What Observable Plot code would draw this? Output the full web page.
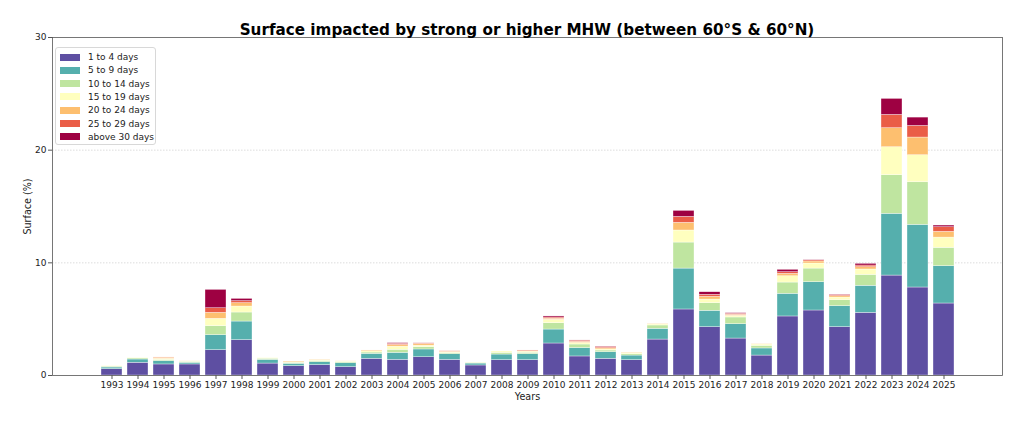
<!DOCTYPE html>
<html>
<head>
<meta charset="utf-8">
<script src="https://cdn.jsdelivr.net/npm/d3@7"></script>
<script src="https://cdn.jsdelivr.net/npm/@observablehq/plot@0.6"></script>
<style>
  body { margin: 0; background: #fff; font-family: "DejaVu Sans", sans-serif; }
  #wrap { position: relative; width: 1024px; height: 423px; }
  #title { position: absolute; left: 52px; width: 950px; top: 21px; text-align: center;
           font: bold 15.2px "DejaVu Sans", sans-serif; color: #000; line-height: 18px; }
  #legend { position: absolute; left: 55px; top: 47px; width: 99px; height: 96px;
            border: 1px solid #d8d8d8; border-radius: 3px; background: rgba(255,255,255,0.85);
            font: 9px "DejaVu Sans", sans-serif; color: #222; }
  .item { position: absolute; left: 4px; height: 13px; display: flex; align-items: center; }
  .sw { width: 20px; height: 7px; margin-right: 8px; }
</style>
</head>
<body>
<div id="wrap">
  <div id="chart"></div>
  <div id="title">Surface impacted by strong or higher MHW (between 60°S &amp; 60°N)</div>
  <div id="legend"></div>
</div>
<script>
const years = [1993,1994,1995,1996,1997,1998,1999,2000,2001,2002,2003,2004,2005,2006,2007,2008,2009,2010,2011,2012,2013,2014,2015,2016,2017,2018,2019,2020,2021,2022,2023,2024,2025];
const seriesNames = ["1 to 4 days","5 to 9 days","10 to 14 days","15 to 19 days","20 to 24 days","25 to 29 days","above 30 days"];
const seriesColors = ["#5e4fa2","#55afad","#bfe5a0","#ffffbf","#fdbf6f","#ea5d47","#9e0142"];
const yTicks = [0,10,20,30];

const d1_4   = [0.56,1.13,0.98,0.98,2.25,3.14,1.06,0.83,0.92,0.74,1.48,1.39,1.62,1.39,0.89,1.36,1.36,2.84,1.69,1.48,1.36,3.19,5.86,4.29,3.28,1.77,5.24,5.77,4.29,5.56,8.87,7.81,6.39];
const d5_9   = [0.15,0.29,0.30,0.15,1.33,1.65,0.33,0.21,0.26,0.35,0.44,0.62,0.69,0.50,0.17,0.50,0.53,1.24,0.74,0.59,0.41,0.95,3.63,1.45,1.27,0.63,2.01,2.51,1.86,2.40,5.48,5.56,3.31];
const d10_14 = [0.08,0.10,0.10,0.08,0.80,0.80,0.10,0.08,0.10,0.10,0.12,0.27,0.20,0.10,0.06,0.15,0.13,0.56,0.32,0.15,0.12,0.30,2.31,0.68,0.60,0.23,1.00,1.21,0.53,0.97,3.43,3.78,1.63];
const d15_19 = [0.04,0.05,0.10,0.04,0.65,0.53,0.05,0.06,0.08,0.06,0.12,0.28,0.14,0.08,0.03,0.12,0.10,0.30,0.14,0.10,0.12,0.10,1.07,0.32,0.14,0.12,0.56,0.45,0.24,0.48,2.48,2.40,0.91];
const d20_24 = [0.00,0.00,0.10,0.02,0.53,0.30,0.00,0.06,0.03,0.02,0.06,0.15,0.15,0.05,0.00,0.00,0.05,0.10,0.10,0.10,0.03,0.05,0.68,0.24,0.10,0.03,0.21,0.18,0.12,0.20,1.69,1.57,0.51];
const d25_29 = [0.00,0.00,0.02,0.00,0.41,0.18,0.00,0.00,0.00,0.00,0.00,0.10,0.05,0.03,0.00,0.00,0.05,0.10,0.10,0.12,0.00,0.00,0.53,0.18,0.09,0.00,0.15,0.10,0.10,0.15,1.18,1.03,0.41];
const d30p   = [0.00,0.00,0.00,0.00,1.63,0.20,0.00,0.00,0.00,0.00,0.00,0.06,0.02,0.00,0.00,0.00,0.00,0.10,0.02,0.03,0.00,0.00,0.53,0.23,0.05,0.00,0.21,0.04,0.03,0.15,1.42,0.74,0.15];

const seriesValues = [d1_4, d5_9, d10_14, d15_19, d20_24, d25_29, d30p];
const rows = [];
years.forEach((yr, i) => {
  seriesNames.forEach((s, k) => rows.push({year: yr, series: s, value: seriesValues[k][i]}));
});

const plot = Plot.plot({
  width: 1024,
  height: 423,
  marginTop: 37,
  marginBottom: 48,
  marginLeft: 52,
  marginRight: 22,
  style: {fontFamily: "DejaVu Sans, sans-serif", fontSize: "9px", color: "#222", background: "#fff"},
  x: {type: "band", domain: years, paddingInner: 0.2, paddingOuter: 1.59},
  y: {domain: [0, 30]},
  color: {domain: seriesNames, range: seriesColors},
  marks: [
    Plot.gridY(yTicks.slice(1, 3), {stroke: "#cfcfcf", strokeOpacity: 1, strokeDasharray: "1.5,1.5", strokeWidth: 0.7}),
    Plot.barY(rows, {x: "year", y: "value", fill: "series", stroke: "white", strokeWidth: 0.5, strokeOpacity: 0.7, order: null}),
    Plot.frame({stroke: "#555", strokeWidth: 0.8}),
    Plot.axisX({ticks: years, tickSize: 4, tickPadding: 2, tickFormat: d => String(d), label: "Years", labelAnchor: "center", labelArrow: "none", labelOffset: 24, fontSize: 9, stroke: "#555"}),
    Plot.axisY({ticks: yTicks, tickSize: 4, tickPadding: 2, label: "Surface (%)", labelAnchor: "center", labelArrow: "none", labelOffset: 28, stroke: "#555"})
  ]
});
document.getElementById("chart").appendChild(plot);

// axis label font sizes
plot.querySelectorAll("[aria-label='x-axis label'] text, [aria-label='y-axis label'] text").forEach(t => t.setAttribute("font-size", "9.6"));

const lg = document.getElementById("legend");
seriesNames.forEach((s, k) => {
  const it = document.createElement("div");
  it.className = "item";
  it.style.top = (2.5 + k * 13.3) + "px";
  it.innerHTML = `<span class="sw" style="background:${seriesColors[k]}"></span><span>${s}</span>`;
  lg.appendChild(it);
});
</script>
</body>
</html>
